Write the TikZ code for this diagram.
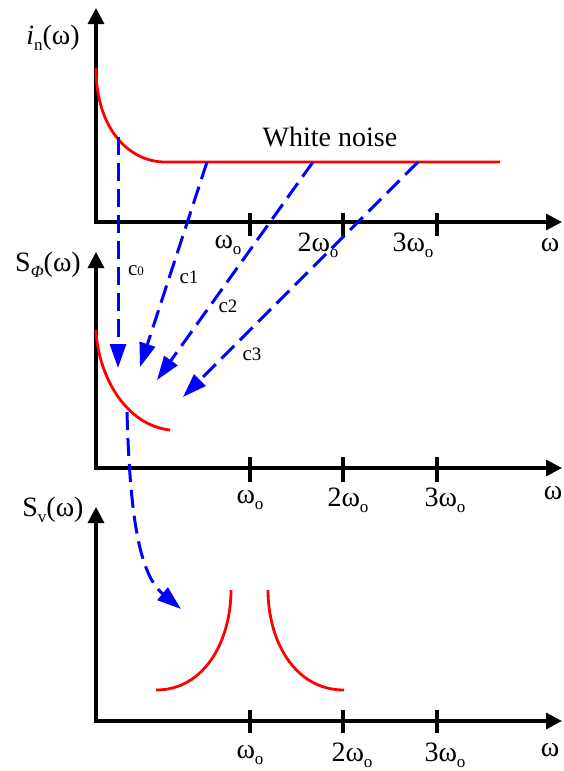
\documentclass[tikz,border=0pt]{standalone}
\usepackage{fontspec}
\setmainfont{Liberation Serif}
\usetikzlibrary{arrows.meta}
\newcommand{\omo}{ω\raisebox{-0.22em}{\fontsize{17}{17}\selectfont o}}
\newcommand{\subtx}[1]{\raisebox{-0.22em}{\fontsize{17}{17}\selectfont #1}}
\begin{document}
\begin{tikzpicture}[x=1pt,y=-1pt,
  lbl/.style={inner sep=0pt, font=\fontsize{28}{30}\selectfont},
  clbl/.style={inner sep=0pt, font=\fontsize{21}{22}\selectfont},
  axis/.style={line width=3.3pt, {Triangle[length=16pt,width=16pt]}-{Triangle[length=16pt,width=16pt]}},
  tickline/.style={line width=3.2pt},
  spec/.style={red, line width=2.8pt},
  flow/.style={blue, line width=3pt, dash pattern=on 18pt off 8pt, -{Triangle[length=24pt,width=16pt]}},
]
\useasboundingbox (0,0) rectangle (564,771);

% ---------- axes ----------
\coordinate (O1) at (96,222); \coordinate (Y1) at (96,8);   \coordinate (X1) at (562,222);
\coordinate (O2) at (96,468); \coordinate (Y2) at (96,252); \coordinate (X2) at (562,468);
\coordinate (O3) at (96,721); \coordinate (Y3) at (96,507); \coordinate (X3) at (562,721);
\draw[axis] (Y1) -- (O1) -- (X1);
\draw[axis] (Y2) -- (O2) -- (X2);
\draw[axis] (Y3) -- (O3) -- (X3);

\foreach \tx in {250,343,437}{
  \draw[tickline] (\tx,213) -- (\tx,236);
  \draw[tickline] (\tx,457) -- (\tx,482);
  \draw[tickline] (\tx,710) -- (\tx,733);
}

% ---------- axis labels ----------
\node[lbl] (la1) at (53,38) {{\itshape i}\subtx{n}(ω)};
\node[lbl] (la2) at (48,265) {S\subtx{\itshape Φ}(ω)};
\node[lbl] (la3) at (53,510) {S\subtx{v}(ω)};

\node[lbl] (t1a) at (228,245) {\omo};
\node[lbl] (t1b) at (318,245) {2\omo};
\node[lbl] (t1c) at (413,245) {3\omo};
\node[lbl] (w1)  at (550,245) {ω};

\node[lbl] (t2a) at (250,500) {\omo};
\node[lbl] (t2b) at (348,500) {2\omo};
\node[lbl] (t2c) at (445,500) {3\omo};
\node[lbl] (w2)  at (553,493) {ω};

\node[lbl] (t3a) at (250,755) {\omo};
\node[lbl] (t3b) at (352,755) {2\omo};
\node[lbl] (t3c) at (445,755) {3\omo};
\node[lbl] (w3)  at (550,750) {ω};

\node[lbl] (wn) at (330,137) {White noise};

% ---------- spectra ----------
\draw[spec] (96,68) .. controls (96,130) and (130,162) .. (165,162) -- (500,162);
\draw[spec] (96,330) .. controls (98,375) and (125,425) .. (170,430);
\draw[spec] (156,690) .. controls (205,690) and (231,640) .. (231,590);
\draw[spec] (268,590) .. controls (268,640) and (294,690) .. (344,690);

% ---------- conversion arrows ----------
\coordinate (c0s) at (118,137); \coordinate (c0e) at (118,368);
\coordinate (c1s) at (207,162); \coordinate (c1e) at (140,367);
\coordinate (c2s) at (313,162); \coordinate (c2e) at (157,380);
\coordinate (c3s) at (418,162); \coordinate (c3e) at (183,397);
\coordinate (ds) at (127,412);  \coordinate (de) at (181,609);
\draw[flow] (c0s) -- (c0e);
\draw[flow] (c1s) -- (c1e);
\draw[flow] (c2s) -- (c2e);
\draw[flow] (c3s) -- (c3e);
\draw[flow] (ds) .. controls (130,520) and (140,575) .. (de);

\node[clbl] (l0) at (136,271) {c{\fontsize{13}{13}\selectfont 0}};
\node[clbl] (l1) at (189,277) {c{\fontsize{19}{19}\selectfont 1}};
\node[clbl] (l2) at (228,306) {c{\fontsize{19}{19}\selectfont 2}};
\node[clbl] (l3) at (252,354) {c{\fontsize{19}{19}\selectfont 3}};
\end{tikzpicture}
\end{document}
